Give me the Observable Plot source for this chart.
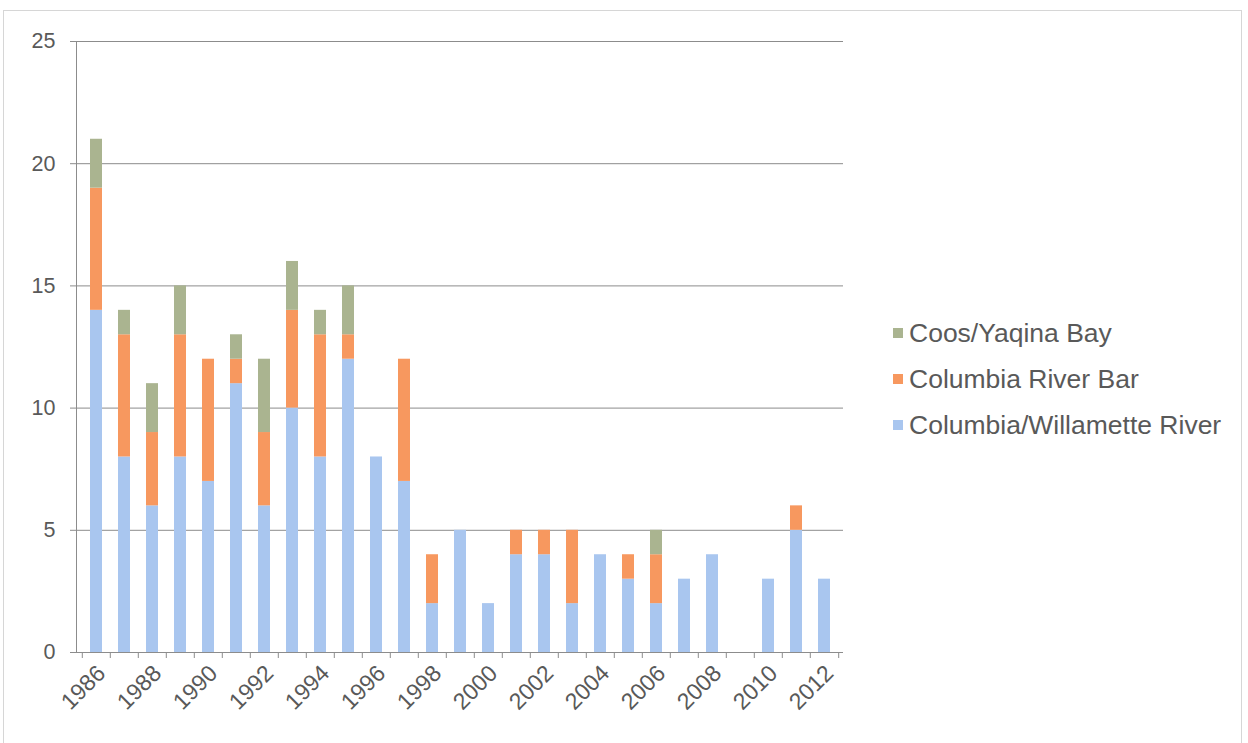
<!DOCTYPE html>
<html>
<head>
<meta charset="utf-8">
<script src="https://cdn.jsdelivr.net/npm/d3@7"></script>
<script src="https://cdn.jsdelivr.net/npm/@observablehq/plot@0.6"></script>
<style>
  html, body { margin: 0; padding: 0; background: #fff; }
  body { width: 1248px; height: 743px; position: relative; overflow: hidden; font-family: "Liberation Sans", Arial, sans-serif; }
  #border { position: absolute; left: 3px; top: 10px; width: 1239px; height: 740px; border: 1px solid #d6d6d6; box-sizing: border-box; }
  #chart { position: absolute; left: 0; top: 0; }
  #legend { position: absolute; left: 893px; top: 310px; color: #595959; font-size: 26.5px; }
  .row { height: 46px; display: flex; align-items: center; white-space: nowrap; }
  .sw { width: 10px; height: 10px; margin-right: 6px; flex: none; }
</style>
</head>
<body>
<div id="border"></div>
<div id="chart"></div>
<div id="legend"></div>
<script>
const years = [1986,1987,1988,1989,1990,1991,1992,1993,1994,1995,1996,1997,1998,1999,2000,2001,2002,2003,2004,2005,2006,2007,2008,2009,2010,2011,2012];
const willametteRiver = [14,8,6,8,7,11,6,10,8,12,8,7,2,5,2,4,4,2,4,3,2,3,4,0,3,5,3];
const columbiaRiverBar = [5,5,3,5,5,1,3,4,5,1,0,5,2,0,0,1,1,3,0,1,2,0,0,0,0,1,0];
const coosYaquinaBay  = [2,1,2,2,0,1,3,2,1,2,0,0,0,0,0,0,0,0,0,0,1,0,0,0,0,0,0];
const seriesNames = ["Columbia/Willamette River","Columbia River Bar","Coos/Yaqina Bay"];
const seriesColors = ["#a9c6ef","#f7985f","#aab490"];
const yTicks = [0,5,10,15,20,25];
const xLabelYears = years.filter(y => y % 2 === 0);

const seriesValues = [willametteRiver, columbiaRiverBar, coosYaquinaBay];
const data = years.flatMap((yr, i) => seriesNames.map((s, k) => ({year: yr, series: s, value: seriesValues[k][i]})));

const axisColor = "#8c8c8c";
const textColor = "#595959";

const chart = Plot.plot({
  width: 870,
  height: 743,
  marginLeft: 76,
  marginRight: 27,
  marginTop: 41,
  marginBottom: 91,
  style: {fontFamily: "Liberation Sans, Arial, sans-serif", color: textColor, background: "transparent"},
  x: {type: "band", domain: years, paddingInner: 0.58, paddingOuter: 0.29, axis: null, label: null},
  y: {domain: [0, 25], axis: null, label: null},
  color: {domain: seriesNames, range: seriesColors},
  marks: [
    Plot.gridY(yTicks.filter(d => d > 0), {stroke: axisColor, strokeOpacity: 1, strokeWidth: 1}),
    Plot.barY(data, {x: "year", y: "value", fill: "series", order: seriesNames}),
    Plot.ruleY([0], {stroke: axisColor, strokeWidth: 1}),
    Plot.frame({anchor: "left", stroke: axisColor}),
    Plot.axisY(yTicks, {label: null, tickSize: 6, tickPadding: 15, fontSize: 21.5, stroke: axisColor, fill: textColor, tickFormat: d => String(d)}),
    Plot.axisX(years, {label: null, tickSize: 6, tickFormat: () => "", dx: -14.2, stroke: axisColor}),
    Plot.axisX([years[years.length - 1]], {label: null, tickSize: 6, tickFormat: () => "", dx: 14.2, stroke: axisColor}),
    Plot.axisX(xLabelYears, {label: null, tickSize: 0, tickPadding: 17, tickRotate: -45, fontSize: 23, fill: textColor, dx: 5, tickFormat: d => String(d)})
  ]
});
document.getElementById("chart").appendChild(chart);

const legend = document.getElementById("legend");
[2, 1, 0].forEach(k => {
  const row = document.createElement("div");
  row.className = "row";
  const sw = document.createElement("span");
  sw.className = "sw";
  sw.style.background = seriesColors[k];
  const label = document.createElement("span");
  label.textContent = seriesNames[k];
  row.appendChild(sw);
  row.appendChild(label);
  legend.appendChild(row);
});
</script>
</body>
</html>
